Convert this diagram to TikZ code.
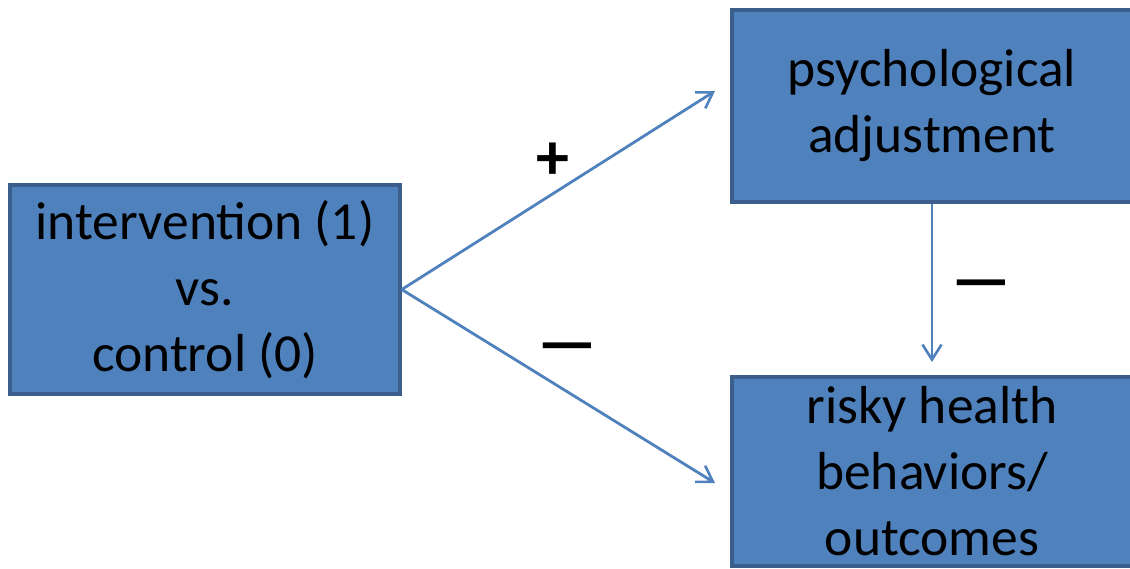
\documentclass[tikz,border=0pt]{standalone}
\usepackage{fontspec}
\setmainfont{Carlito}
\usetikzlibrary{arrows.meta}
\definecolor{boxfill}{HTML}{4F81BD}
\definecolor{boxline}{HTML}{3B5E8C}
\definecolor{arrowcol}{HTML}{4F81BD}
\tikzset{
  varbox/.style={draw=boxline, line width=3.5pt, fill=boxfill, rectangle, align=center, inner sep=0pt,
    font=\fontsize{53.5}{66}\selectfont, text=black, execute at begin node={\rule{0pt}{47pt}}},
  link/.style={draw=arrowcol, line width=2.8pt, -{Straight Barb[length=15pt,width=19pt,line width=2.6pt]}},
  sign/.style={font=\fontsize{66}{70}\selectfont\bfseries, text=black, inner sep=0pt}
}
\begin{document}
\begin{tikzpicture}[x=1pt,y=-1pt]
\useasboundingbox (0,0) rectangle (1130,568);
\node[varbox, minimum width=390pt, minimum height=209pt] (iv) at (205,289.5) {intervention (1)\\vs.\\control (0)};
\node[varbox, minimum width=400pt, minimum height=192pt] (psy) at (932,106) {psychological\\adjustment};
\node[varbox, minimum width=400pt, minimum height=189pt] (risk) at (932,471.5) {risky health\\behaviors/\\outcomes};
\coordinate (tipA) at (715,91);
\coordinate (tipB) at (715,483);
\coordinate (tipC) at (932,362);
\draw[link] (iv.east) -- (tipA);
\draw[link] (iv.east) -- (tipB);
\draw[link] (psy.south) -- (tipC);
\node[sign] (plus) at (553,161) {+};
\node[sign] (minusA) at (567,354) {—};
\node[sign] (minusB) at (981,291) {—};
\end{tikzpicture}
\end{document}
